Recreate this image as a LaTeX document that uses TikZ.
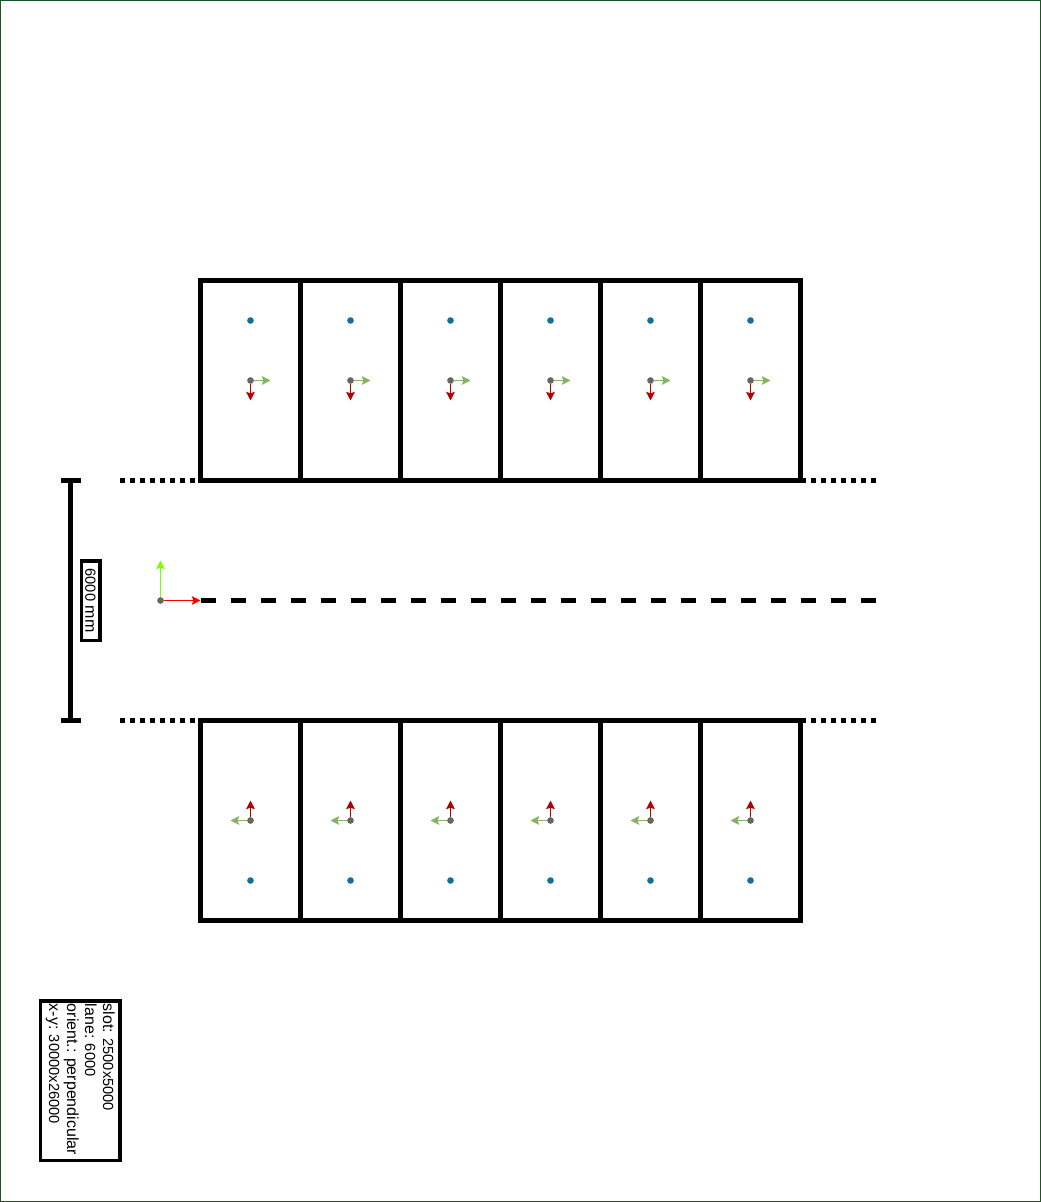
\documentclass[tikz,border=0pt]{standalone}
\usepackage{fontspec}
\setmainfont{Liberation Sans}
\usepackage{xcolor}
\usetikzlibrary {positioning,arrows.meta}

\definecolor{pagegreen}{HTML}{1B5320}
\definecolor{axisred}{HTML}{B20000}
\definecolor{axisgreen}{HTML}{82B366}
\definecolor{pivotgray}{HTML}{666666}
\definecolor{targetblue}{HTML}{10739E}
\definecolor{originlime}{HTML}{80FF00}
\newcommand{\nm}[1]{{\fontsize{11}{13.5}\selectfont #1}}

\begin{document}
\begin{tikzpicture}
		[x=0.75pt,y=-0.75pt,on grid,
		slot/.style={rectangle,draw=black,line width=3.5pt,inner sep=0pt,outer sep=0pt,minimum width=75pt,minimum height=150pt},
		pivot/.style={circle,fill=pivotgray,inner sep=0pt,minimum size=5pt},
		target/.style={circle,fill=targetblue,inner sep=0pt,minimum size=5pt},
		axisx/.style={draw=axisgreen,line width=1.2pt,-{Stealth[length=6.5pt,width=6.5pt,inset=1.2pt]}},
		axisy/.style={draw=axisred,line width=1.2pt,-{Stealth[length=6.5pt,width=6.5pt,inset=1.2pt]}},
		originx/.style={draw=red,line width=0.85pt,-{Stealth[length=6.5pt,width=6.5pt,inset=1.2pt]}},
		originy/.style={draw=originlime,line width=0.85pt,-{Stealth[length=6.5pt,width=6.5pt,inset=1.2pt]}},
		laneedge/.style={draw=black,line width=3.5pt,dash pattern=on 3.75pt off 3.75pt},
		lanemid/.style={draw=black,line width=3.75pt,dash pattern=on 11.25pt off 11.25pt},
		dimline/.style={draw=black,line width=3.5pt},
		textbox/.style={rectangle,draw=black,line width=2.5pt,fill=white,rotate=-90,font=\fontsize{12}{13.5}\selectfont\frenchspacing},
		pageframe/.style={rectangle,draw=pagegreen,line width=0.75pt}]
		\useasboundingbox (0,0) rectangle (1041,1202);
		\node [pageframe,minimum width=780pt,minimum height=900.75pt] (page) at (520.5,601) {};

		% top row
		\node [slot] (t1) at (250.5,380.5) {};
		\node [slot] (t2) [right=75pt of t1] {};
		\node [slot] (t3) [right=75pt of t2] {};
		\node [slot] (t4) [right=75pt of t3] {};
		\node [slot] (t5) [right=75pt of t4] {};
		\node [slot] (t6) [right=75pt of t5] {};

		\node [target] (dt1) [above=45pt of t1] {};
		\node [target] (dt2) [above=45pt of t2] {};
		\node [target] (dt3) [above=45pt of t3] {};
		\node [target] (dt4) [above=45pt of t4] {};
		\node [target] (dt5) [above=45pt of t5] {};
		\node [target] (dt6) [above=45pt of t6] {};

		\coordinate [right=15pt of t1] (et1);
		\coordinate [right=15pt of t2] (et2);
		\coordinate [right=15pt of t3] (et3);
		\coordinate [right=15pt of t4] (et4);
		\coordinate [right=15pt of t5] (et5);
		\coordinate [right=15pt of t6] (et6);

		\coordinate [below=15pt of t1] (st1);
		\coordinate [below=15pt of t2] (st2);
		\coordinate [below=15pt of t3] (st3);
		\coordinate [below=15pt of t4] (st4);
		\coordinate [below=15pt of t5] (st5);
		\coordinate [below=15pt of t6] (st6);

		\node [pivot] (ct1) at (t1) {};
		\node [pivot] (ct2) at (t2) {};
		\node [pivot] (ct3) at (t3) {};
		\node [pivot] (ct4) at (t4) {};
		\node [pivot] (ct5) at (t5) {};
		\node [pivot] (ct6) at (t6) {};

		\draw [axisx] (ct1) -- (et1);
		\draw [axisx] (ct2) -- (et2);
		\draw [axisx] (ct3) -- (et3);
		\draw [axisx] (ct4) -- (et4);
		\draw [axisx] (ct5) -- (et5);
		\draw [axisx] (ct6) -- (et6);

		\draw [axisy] (ct1) -- (st1);
		\draw [axisy] (ct2) -- (st2);
		\draw [axisy] (ct3) -- (st3);
		\draw [axisy] (ct4) -- (st4);
		\draw [axisy] (ct5) -- (st5);
		\draw [axisy] (ct6) -- (st6);

		% bottom row
		\node [slot] (b1) [below=330pt of t1] {};
		\node [slot] (b2) [right=75pt of b1] {};
		\node [slot] (b3) [right=75pt of b2] {};
		\node [slot] (b4) [right=75pt of b3] {};
		\node [slot] (b5) [right=75pt of b4] {};
		\node [slot] (b6) [right=75pt of b5] {};

		\node [target] (db1) [below=45pt of b1] {};
		\node [target] (db2) [below=45pt of b2] {};
		\node [target] (db3) [below=45pt of b3] {};
		\node [target] (db4) [below=45pt of b4] {};
		\node [target] (db5) [below=45pt of b5] {};
		\node [target] (db6) [below=45pt of b6] {};

		\coordinate [left=15pt of b1] (wb1);
		\coordinate [left=15pt of b2] (wb2);
		\coordinate [left=15pt of b3] (wb3);
		\coordinate [left=15pt of b4] (wb4);
		\coordinate [left=15pt of b5] (wb5);
		\coordinate [left=15pt of b6] (wb6);

		\coordinate [above=15pt of b1] (nb1);
		\coordinate [above=15pt of b2] (nb2);
		\coordinate [above=15pt of b3] (nb3);
		\coordinate [above=15pt of b4] (nb4);
		\coordinate [above=15pt of b5] (nb5);
		\coordinate [above=15pt of b6] (nb6);

		\node [pivot] (cb1) at (b1) {};
		\node [pivot] (cb2) at (b2) {};
		\node [pivot] (cb3) at (b3) {};
		\node [pivot] (cb4) at (b4) {};
		\node [pivot] (cb5) at (b5) {};
		\node [pivot] (cb6) at (b6) {};

		\draw [axisx] (cb1) -- (wb1);
		\draw [axisx] (cb2) -- (wb2);
		\draw [axisx] (cb3) -- (wb3);
		\draw [axisx] (cb4) -- (wb4);
		\draw [axisx] (cb5) -- (wb5);
		\draw [axisx] (cb6) -- (wb6);

		\draw [axisy] (cb1) -- (nb1);
		\draw [axisy] (cb2) -- (nb2);
		\draw [axisy] (cb3) -- (nb3);
		\draw [axisy] (cb4) -- (nb4);
		\draw [axisy] (cb5) -- (nb5);
		\draw [axisy] (cb6) -- (nb6);

		% lane
		\coordinate (ltl) at (120,480.5);
		\coordinate (ltr) at (875.5,480.5);
		\coordinate (lbl) at (120,720.5);
		\coordinate (lbr) at (875.5,720.5);
		\coordinate (lmr) at (875.5,600);
		\coordinate (lml) at (200.5,600);

		\draw [laneedge] (ltl) -- (t1.south west);
		\draw [laneedge] (t6.south east) -- (ltr);
		\draw [laneedge] (lbl) -- (b1.north west);
		\draw [laneedge] (b6.north east) -- (lbr);
		\draw [lanemid] (lml) -- (lmr);

		% origin
		\node [pivot] (origin) at (160.5,600.5) {};
		\coordinate (ox) at (200.5,600.5);
		\coordinate (oy) at (160.5,560.5);
		\draw [originx] (origin) -- (ox);
		\draw [originy] (origin) -- (oy);

		% width of the lane
		\coordinate (dt) at (70.5,480.5);
		\coordinate (db) at (70.5,720.5);
		\coordinate (dtl) at (60.5,480.5);
		\coordinate (dtr) at (80.5,480.5);
		\coordinate (dbl) at (60.5,720.5);
		\coordinate (dbr) at (80.5,720.5);
		\draw [dimline] (dt) -- (db);
		\draw [dimline] (dtl) -- (dtr);
		\draw [dimline] (dbl) -- (dbr);
		\node [textbox,minimum width=59.5pt,minimum height=14pt,inner sep=0pt] (lanelabel) at (90.5,600.5) {\nm{6000} mm};

		% info box
		\node [textbox,minimum width=119.5pt,minimum height=59.5pt,text width=115pt,inner xsep=2pt,inner ysep=0pt,align=left] (info) at (80.3,1080.5)
			{slot: \nm{2500x5000}\\lane: \nm{6000}\\orient.: perpendicular\\x-y: \nm{30000x26000}};
\end{tikzpicture}
\end{document}
